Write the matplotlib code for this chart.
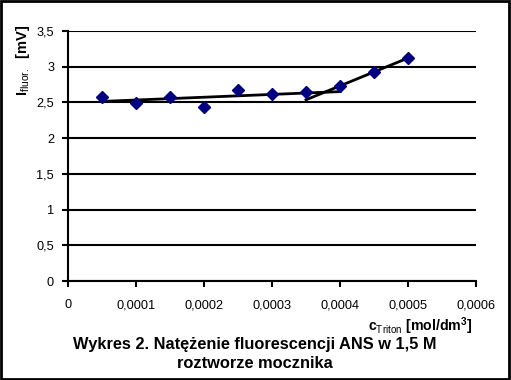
import numpy as np
import matplotlib
matplotlib.use("Agg")
import matplotlib.pyplot as plt
from matplotlib.patches import Rectangle

# dane z wykresu
c_triton = [0.00005, 0.0001, 0.00015, 0.0002, 0.00025, 0.0003, 0.00035, 0.0004, 0.00045, 0.0005]
i_fluor = [2.58, 2.49, 2.57, 2.43, 2.68, 2.62, 2.64, 2.73, 2.93, 3.12]

x_ticks = [0, 0.0001, 0.0002, 0.0003, 0.0004, 0.0005, 0.0006]
x_labels = ["0", "0,0001", "0,0002", "0,0003", "0,0004", "0,0005", "0,0006"]
y_ticks = [0, 0.5, 1, 1.5, 2, 2.5, 3, 3.5]
y_labels = ["0", "0,5", "1", "1,5", "2", "2,5", "3", "3,5"]

# linie trendu (Excel): pierwsza z 7 punktow, druga z 3 ostatnich
fit1_n = 7
fit2_n = 3

plt.rcParams['font.family'] = ['Liberation Sans', 'DejaVu Sans']
plt.rcParams['mathtext.fontset'] = 'custom'
plt.rcParams['mathtext.rm'] = 'Liberation Sans'
plt.rcParams['mathtext.bf'] = 'Liberation Sans:bold'

fig = plt.figure(figsize=(5.11, 3.8), dpi=100)
ax = fig.add_axes([68 / 511, 1 - 281 / 380, 408 / 511, 250 / 380])

x = np.array(c_triton)
y = np.array(i_fluor)

# trend 1 - przedluzony do przodu
p1 = np.polyfit(x[:fit1_n], y[:fit1_n], 1)
xs1 = np.array([x[0], x[fit1_n]])
ax.plot(xs1, np.polyval(p1, xs1), color='black', lw=2, zorder=3)

# trend 2 - przedluzony do tylu
p2 = np.polyfit(x[-fit2_n:], y[-fit2_n:], 1)
xs2 = np.array([x[-fit2_n - 1], x[-1]])
ax.plot(xs2, np.polyval(p2, xs2), color='black', lw=2, zorder=3)

ax.plot(x, y, linestyle='none', marker='D', markersize=6.3,
        color='#000080', zorder=4)

ax.set_xlim(0, 0.0006)
ax.set_ylim(0, 3.5)
ax.set_xticks(x_ticks)
ax.set_xticklabels(x_labels)
ax.set_yticks(y_ticks)
ax.set_yticklabels(y_labels)
ax.tick_params(axis='both', labelsize=9.2, width=1.5, length=4, direction='out',
               colors='black', pad=6)
ax.tick_params(axis='x', pad=9)
ax.grid(axis='y', color='black', lw=1.5)
ax.set_axisbelow(True)
for s in ['top', 'right']:
    ax.spines[s].set_visible(False)
for s in ['left', 'bottom']:
    ax.spines[s].set_linewidth(1.5)

fig.text(23 / 511, 1 - 60 / 380, r'I$_{\mathrm{fluor.}}$  [mV]', rotation=90,
         ha='center', va='center', fontsize=10.5, fontweight='bold')
fig.text(473 / 511, 1 - 326 / 380, r'c$_{\mathrm{Triton}}$ [mol/dm$^{\mathbf{3}}$]',
         ha='right', va='center', fontsize=10.2, fontweight='bold')
fig.text(255 / 511, 1 - 344 / 380, 'Wykres 2. Natężenie fluorescencji ANS w 1,5 M',
         ha='center', va='center', fontsize=11.8, fontweight='bold')
fig.text(255 / 511, 1 - 363 / 380, 'roztworze mocznika',
         ha='center', va='center', fontsize=11.8, fontweight='bold')

fig.patches.append(Rectangle((0.002, 0.003), 0.995, 0.994, transform=fig.transFigure,
                             fill=False, edgecolor='black', lw=2))

fig.savefig('out.png', dpi=100)
